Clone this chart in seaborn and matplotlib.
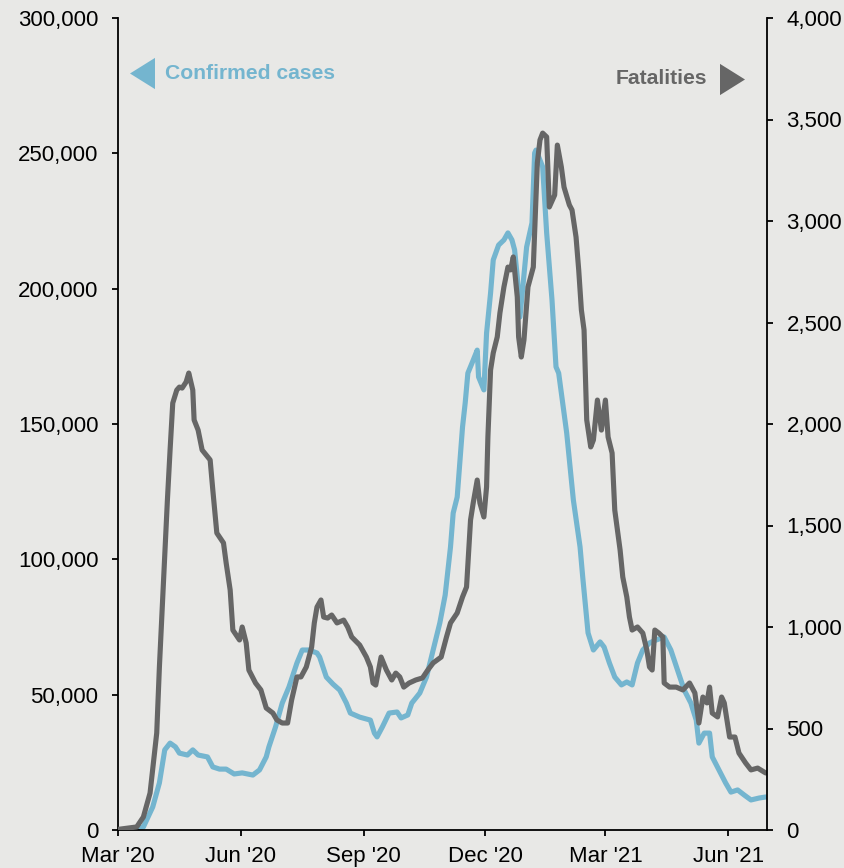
import matplotlib
matplotlib.use("Agg")
import matplotlib.pyplot as plt
import seaborn as sns
import pandas as pd

# ---- data ----
case_dates = ["2020-03-01", "2020-03-12", "2020-03-20", "2020-03-27", "2020-04-01", "2020-04-05",
              "2020-04-09", "2020-04-13", "2020-04-16", "2020-04-22", "2020-04-26", "2020-04-30",
              "2020-05-07", "2020-05-11", "2020-05-16", "2020-05-21", "2020-05-27", "2020-06-02",
              "2020-06-10", "2020-06-15", "2020-06-20", "2020-06-22", "2020-06-27", "2020-07-02",
              "2020-07-07", "2020-07-13", "2020-07-17", "2020-07-22", "2020-07-28", "2020-07-30",
              "2020-08-04", "2020-08-09", "2020-08-14", "2020-08-19", "2020-08-22", "2020-08-29",
              "2020-09-06", "2020-09-09", "2020-09-11", "2020-09-15", "2020-09-20", "2020-09-26",
              "2020-09-29", "2020-10-04", "2020-10-07", "2020-10-13", "2020-10-18", "2020-10-23",
              "2020-10-28", "2020-11-01", "2020-11-05", "2020-11-07", "2020-11-10", "2020-11-14",
              "2020-11-16", "2020-11-18", "2020-11-22", "2020-11-25", "2020-11-26", "2020-11-30",
              "2020-12-02", "2020-12-05", "2020-12-07", "2020-12-11", "2020-12-15", "2020-12-18",
              "2020-12-21", "2020-12-23", "2020-12-25", "2020-12-27", "2021-01-01", "2021-01-05",
              "2021-01-07", "2021-01-08", "2021-01-13", "2021-01-16", "2021-01-20", "2021-01-23",
              "2021-01-25", "2021-01-31", "2021-02-05", "2021-02-10", "2021-02-12", "2021-02-16",
              "2021-02-20", "2021-02-25", "2021-02-28", "2021-03-04", "2021-03-08", "2021-03-13",
              "2021-03-17", "2021-03-21", "2021-03-25", "2021-03-29", "2021-04-03", "2021-04-08",
              "2021-04-14", "2021-04-19", "2021-04-24", "2021-04-29", "2021-05-04", "2021-05-08",
              "2021-05-10", "2021-05-14", "2021-05-18", "2021-05-20", "2021-05-25", "2021-05-30",
              "2021-06-03", "2021-06-08", "2021-06-13", "2021-06-18", "2021-06-24", "2021-06-29"]
confirmed_cases = [0, 100, 1100, 8500, 17400, 29600,
                   32100, 30700, 28400, 27700, 29600, 27700,
                   27000, 23300, 22500, 22500, 20700, 21100,
                   20300, 22200, 27000, 30700, 38100, 46900,
                   52800, 61700, 66500, 66500, 65400, 63900,
                   56500, 53900, 51700, 46900, 43200, 41700,
                   40600, 35800, 34400, 38100, 43200, 43600,
                   41400, 42500, 46900, 50600, 56500, 66500,
                   76500, 86800, 104600, 117100, 123000, 148900,
                   157800, 168800, 173600, 177300, 167400, 162600,
                   183600, 198400, 210600, 216100, 218000, 220600,
                   218000, 214300, 204300, 189500, 215400, 224300,
                   250100, 251200, 245000, 220600, 195800, 171100,
                   168800, 146700, 121900, 104600, 93500, 72800,
                   66500, 69500, 67600, 61700, 56500, 53600,
                   54700, 53600, 61700, 66500, 69100, 70200,
                   71300, 66500, 59100, 51700, 46900, 40600,
                   32100, 35800, 35800, 27000, 22200, 17400,
                   14000, 14800, 12900, 11100, 11800, 12200]

fatal_dates = ["2020-03-01", "2020-03-15", "2020-03-20", "2020-03-25", "2020-03-30", "2020-04-01",
               "2020-04-04", "2020-04-07", "2020-04-09", "2020-04-11", "2020-04-14", "2020-04-16",
               "2020-04-18", "2020-04-21", "2020-04-23", "2020-04-26", "2020-04-27", "2020-04-30",
               "2020-05-03", "2020-05-09", "2020-05-11", "2020-05-14", "2020-05-19", "2020-05-21",
               "2020-05-24", "2020-05-26", "2020-05-31", "2020-06-02", "2020-06-05", "2020-06-07",
               "2020-06-12", "2020-06-16", "2020-06-20", "2020-06-25", "2020-06-28", "2020-07-02",
               "2020-07-06", "2020-07-09", "2020-07-13", "2020-07-16", "2020-07-20", "2020-07-24",
               "2020-07-26", "2020-07-28", "2020-07-31", "2020-08-02", "2020-08-05", "2020-08-08",
               "2020-08-12", "2020-08-17", "2020-08-20", "2020-08-23", "2020-08-29", "2020-09-03",
               "2020-09-06", "2020-09-08", "2020-09-10", "2020-09-14", "2020-09-18", "2020-09-22",
               "2020-09-25", "2020-09-28", "2020-10-01", "2020-10-05", "2020-10-10", "2020-10-15",
               "2020-10-19", "2020-10-23", "2020-10-29", "2020-11-02", "2020-11-05", "2020-11-10",
               "2020-11-14", "2020-11-17", "2020-11-20", "2020-11-22", "2020-11-25", "2020-11-27",
               "2020-11-30", "2020-12-02", "2020-12-03", "2020-12-05", "2020-12-07", "2020-12-10",
               "2020-12-12", "2020-12-15", "2020-12-18", "2020-12-20", "2020-12-22", "2020-12-25",
               "2020-12-26", "2020-12-28", "2020-12-30", "2021-01-02", "2021-01-04", "2021-01-06",
               "2021-01-09", "2021-01-11", "2021-01-13", "2021-01-16", "2021-01-18", "2021-01-22",
               "2021-01-24", "2021-01-27", "2021-01-29", "2021-02-02", "2021-02-04", "2021-02-07",
               "2021-02-09", "2021-02-11", "2021-02-13", "2021-02-15", "2021-02-18", "2021-02-20",
               "2021-02-23", "2021-02-26", "2021-03-01", "2021-03-03", "2021-03-06", "2021-03-08",
               "2021-03-12", "2021-03-14", "2021-03-17", "2021-03-19", "2021-03-21", "2021-03-25",
               "2021-03-29", "2021-04-01", "2021-04-03", "2021-04-05", "2021-04-07", "2021-04-10",
               "2021-04-13", "2021-04-14", "2021-04-18", "2021-04-23", "2021-04-28", "2021-05-03",
               "2021-05-07", "2021-05-10", "2021-05-13", "2021-05-16", "2021-05-18", "2021-05-20",
               "2021-05-24", "2021-05-27", "2021-05-29", "2021-06-02", "2021-06-06", "2021-06-09",
               "2021-06-14", "2021-06-18", "2021-06-23", "2021-06-29"]
fatalities = [3, 15, 64, 182, 478, 803,
              1217, 1626, 1872, 2103, 2167, 2182,
              2177, 2207, 2251, 2167, 2020, 1970,
              1872, 1823, 1675, 1463, 1414, 1315,
              1182, 985, 936, 1000, 921, 788,
              724, 690, 601, 576, 542, 527,
              527, 640, 754, 754, 803, 901,
              1020, 1098, 1133, 1049, 1044, 1059,
              1020, 1034, 1000, 951, 911, 852,
              803, 724, 714, 852, 788, 739,
              773, 754, 704, 724, 739, 749,
              788, 823, 852, 951, 1020, 1069,
              1148, 1197, 1527, 1611, 1724, 1611,
              1542, 1690, 1936, 2266, 2350, 2429,
              2547, 2675, 2773, 2759, 2823, 2626,
              2429, 2330, 2414, 2675, 2724, 2773,
              3286, 3399, 3433, 3414, 3069, 3128,
              3374, 3266, 3167, 3079, 3054, 2921,
              2759, 2562, 2463, 2020, 1887, 1921,
              2118, 1970, 2118, 1936, 1857, 1576,
              1379, 1246, 1148, 1049, 985, 1000,
              970, 887, 803, 788, 985, 970,
              951, 724, 704, 704, 690, 724,
              675, 527, 655, 626, 704, 576,
              557, 655, 626, 458, 458, 379,
              330, 296, 305, 281]

left_ticks = [0, 50000, 100000, 150000, 200000, 250000, 300000]
right_ticks = [0, 500, 1000, 1500, 2000, 2500, 3000, 3500, 4000]
x_tick_dates = ["2020-03-01", "2020-06-01", "2020-09-01", "2020-12-01", "2021-03-01", "2021-06-01"]
x_tick_labels = ["Mar '20", "Jun '20", "Sep '20", "Dec '20", "Mar '21", "Jun '21"]

# ---- style ----
BG = "#e8e8e6"
BLUE = "#74b5cf"
GRAY = "#666666"
TICK_FS = 16.0

sns.set_style("ticks", {"axes.facecolor": BG, "figure.facecolor": BG})
plt.rcParams["font.family"] = ["Liberation Sans", "DejaVu Sans"]

cases_df = pd.DataFrame({"date": pd.to_datetime(case_dates), "cases": confirmed_cases})
fatal_df = pd.DataFrame({"date": pd.to_datetime(fatal_dates), "fatalities": fatalities})

fig = plt.figure(figsize=(8.45, 8.68), dpi=100)
fig.patch.set_facecolor(BG)
ax = fig.add_axes([118 / 845, 1 - 830 / 868, (767 - 118) / 845, (830 - 18) / 868])
ax.set_facecolor(BG)
ax2 = ax.twinx()
ax.set_zorder(0)
ax2.set_zorder(1)
ax2.patch.set_visible(False)

sns.lineplot(data=cases_df, x="date", y="cases", ax=ax, color=BLUE, linewidth=3.7)
sns.lineplot(data=fatal_df, x="date", y="fatalities", ax=ax2, color=GRAY, linewidth=3.7)

ax.set_xlim(pd.Timestamp("2020-03-01"), pd.Timestamp("2021-06-30"))
ax.set_ylim(0, 300000)
ax2.set_ylim(0, 4000)

ax.set_yticks(left_ticks)
ax.set_yticklabels([f"{v:,}" for v in left_ticks])
ax2.set_yticks(right_ticks)
ax2.set_yticklabels([f"{v:,}" for v in right_ticks])
ax.set_xticks(pd.to_datetime(x_tick_dates))
ax.set_xticklabels(x_tick_labels)

for a in (ax, ax2):
    a.set_xlabel("")
    a.set_ylabel("")
    a.spines["top"].set_visible(False)
    for s in ("left", "right", "bottom"):
        a.spines[s].set_color("black")
        a.spines[s].set_linewidth(1.3)
    a.tick_params(axis="both", direction="out", length=4.5, width=1.3, colors="black",
                  labelsize=TICK_FS, pad=4)
ax.spines["right"].set_visible(False)
ax2.spines["left"].set_visible(False)
ax2.spines["bottom"].set_visible(False)
ax.tick_params(axis="y", pad=9.5)
ax.tick_params(axis="x", pad=7)
ax2.tick_params(axis="y", pad=9.5)

# legend-like annotations
left_tri = [(0.8, 1.0), (-0.8, 0.0), (0.8, -1.0)]
right_tri = [(-0.8, 1.0), (0.8, 0.0), (-0.8, -1.0)]
ax.plot([0.037], [0.932], marker=left_tri, markersize=22.5, color=BLUE, markeredgewidth=0,
        transform=ax.transAxes, clip_on=False, linestyle="none")
ax.text(0.072, 0.932, "Confirmed cases", transform=ax.transAxes, color=BLUE,
        fontsize=15.2, fontweight="bold", va="center", ha="left")
ax2.plot([0.946], [0.925], marker=right_tri, markersize=22.5, color=GRAY, markeredgewidth=0,
         transform=ax2.transAxes, clip_on=False, linestyle="none")
ax2.text(0.908, 0.925, "Fatalities", transform=ax2.transAxes, color=GRAY,
         fontsize=15.2, fontweight="bold", va="center", ha="right")

fig.savefig("out.png", dpi=100, facecolor=BG)
